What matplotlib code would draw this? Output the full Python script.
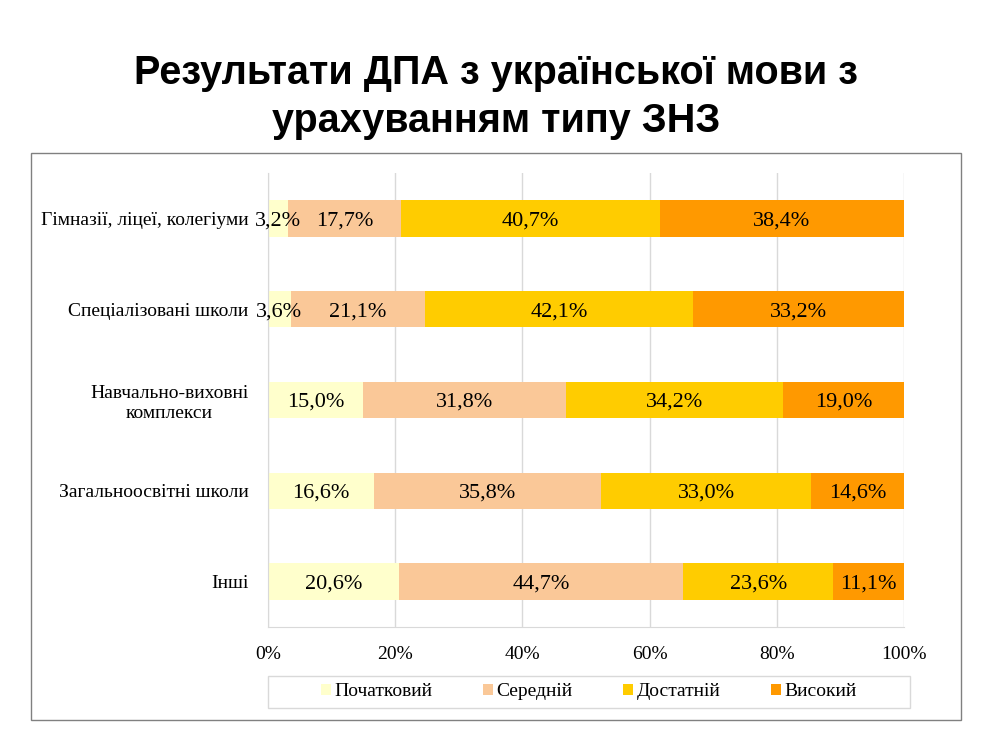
import matplotlib.pyplot as plt
import matplotlib.patches as mpatches
import numpy as np

# -------------------------------------------------------------------
# ДАНІ
# -------------------------------------------------------------------
categories = [
    "Гімназії, ліцеї, колегіуми",
    "Спеціалізовані школи",
    "Навчально-виховні\nкомплекси",
    "Загальноосвітні школи",
    "Інші",
]
levels = ["Початковий", "Середній", "Достатній", "Високий"]

pochatkovyi = [3.2, 3.6, 15.0, 16.6, 20.6]
serednii = [17.7, 21.1, 31.8, 35.8, 44.7]
dostatnii = [40.7, 42.1, 34.2, 33.0, 23.6]
vysokyi = [38.4, 33.2, 19.0, 14.6, 11.1]

x_ticks = [0, 20, 40, 60, 80, 100]
x_tick_labels = ["0%", "20%", "40%", "60%", "80%", "100%"]

colors = ["#FFFFCC", "#FAC898", "#FFCC00", "#FF9900"]

SERIF = "Liberation Serif"
SANS = "Liberation Sans"

# -------------------------------------------------------------------
# ГРАФІК
# -------------------------------------------------------------------
fig = plt.figure(figsize=(9.93, 7.47), dpi=100)
W, H = 993, 747

# рамка діаграми
fig.patches.append(mpatches.Rectangle(
    (31 / W, 1 - 720 / H), (961 - 31) / W, (720 - 153) / H,
    transform=fig.transFigure, fill=False, edgecolor="#808080", linewidth=1.0))

fig.text(0.5, 1 - 97 / H, "Результати ДПА з української мови з\nурахуванням типу ЗНЗ",
         ha="center", va="center", fontsize=28.5, fontweight="bold",
         family=SANS, linespacing=1.3)

ax = fig.add_axes([268 / W, 1 - 627 / H, (904 - 268) / W, (627 - 173) / H])

series = [pochatkovyi, serednii, dostatnii, vysokyi]
y = np.arange(len(categories))
left = np.zeros(len(categories))
for name, vals, col in zip(levels, series, colors):
    vals = np.array(vals)
    ax.barh(y, vals, left=left, height=0.4, color=col, label=name, zorder=2)
    for yi, l, v in zip(y, left, vals):
        ax.text(l + v / 2, yi, f"{v:.1f}%".replace(".", ","),
                ha="center", va="center_baseline", fontsize=16, family=SERIF, zorder=3)
    left = left + vals

ax.set_xlim(0, 100)
ax.set_ylim(len(categories) - 0.5, -0.5)
ax.set_xticks(x_ticks)
ax.set_xticklabels(x_tick_labels, family=SERIF, fontsize=14)
ax.set_yticks(y)
ax.set_yticklabels(categories, family=SERIF, fontsize=14, multialignment="center")
ax.tick_params(axis="both", length=0)
ax.tick_params(axis="x", pad=14)
ax.tick_params(axis="y", pad=14)
ax.grid(True, axis="x", color="#D9D9D9", linewidth=1.0, zorder=0)

for s in ["top", "right"]:
    ax.spines[s].set_visible(False)
for s in ["left", "bottom"]:
    ax.spines[s].set_color("#D9D9D9")

handles, labels = ax.get_legend_handles_labels()
leg = fig.legend(handles, labels, loc="center",
                 bbox_to_anchor=(589 / W, 1 - 692 / H),
                 ncol=4, frameon=False,
                 prop={"family": SERIF, "size": 14},
                 handlelength=0.5, handleheight=0.5, handletextpad=0.2,
                 columnspacing=2.6, borderaxespad=0, borderpad=0.3)

# рамка легенди
fig.patches.append(mpatches.Rectangle(
    (268 / W, 1 - 708 / H), (910 - 268) / W, (708 - 676) / H,
    transform=fig.transFigure, fill=False, edgecolor="#D9D9D9", linewidth=1.0))

fig.savefig("out.png", dpi=100)
